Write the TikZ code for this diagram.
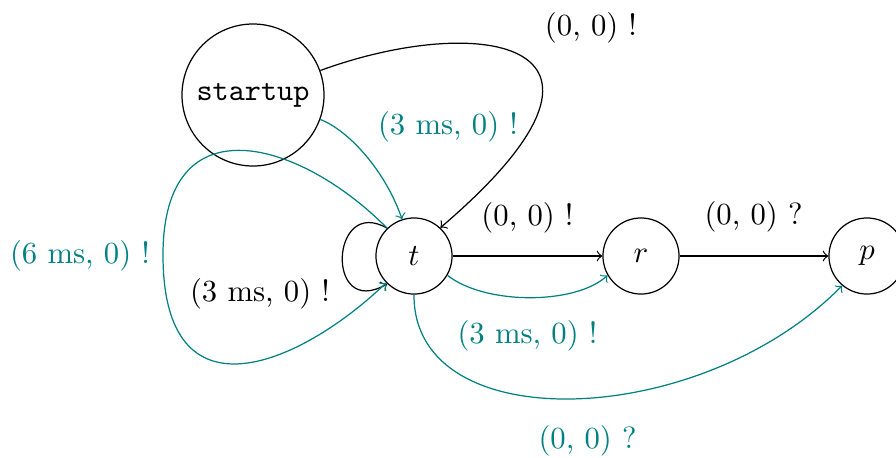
\documentclass[tikz,border=0pt]{standalone}
\usetikzlibrary{arrows}
\tikzset{
  statenode/.style={draw, circle, inner sep=0pt, minimum size=24.8pt},
  startnode/.style={draw, circle, inner sep=0pt, minimum size=46.3pt, font=\ttfamily},
  edge/.style={->, draw=black},
  tedge/.style={->, draw=teal},
  lbl/.style={inner sep=0pt, text=black},
  tlbl/.style={inner sep=0pt, text=teal}
}
\begin{document}
\begin{tikzpicture}[x=0.326pt, y=-0.326pt]
\useasboundingbox (0,0) rectangle (896,457);
\node[startnode] (s) at (253,95) {startup};
\node[statenode] (t) at (414,256) {$t$};
\node[statenode] (r) at (641,256) {$r$};
\node[statenode] (p) at (867,256) {$p$};

% startup -> t, black big curve
\draw[edge] (s.20) .. controls (480,12) and (660,40) .. (t.47);
% startup -> t, teal
\draw[tedge] (s.-20) .. controls (348,130) and (385,170) .. (t.108);
% t self loop black
\draw[edge] (t.134) .. controls (330,195) and (325,320) .. (t.-134);
% t big teal loop
\draw[tedge] (t.134) .. controls (300,140) and (163,100) .. (163,255)
  .. controls (163,425) and (300,365) .. (t.-136);
% t -> r
\draw[edge] (t) -- (r);
\draw[tedge] (t.-30) .. controls (485,305) and (575,305) .. (r.-150);
% r -> p
\draw[edge] (r) -- (p);
% t -> p teal
\draw[tedge] (t.-90) .. controls (413,440) and (700,430) .. (p.-130);

% labels
\node[lbl] (l1) at (591,28) {(0, 0) !};
\node[tlbl] (l2) at (448,127) {(3 ms, 0) !};
\node[lbl] (l3) at (527.5,217.5) {(0, 0) !};
\node[lbl] (l4) at (753.5,217) {(0, 0) ?};
\node[tlbl] (l5) at (527.5,336) {(3 ms, 0) !};
\node[tlbl] (l6) at (587.5,441) {(0, 0) ?};
\node[tlbl] (l7) at (80,256) {(6 ms, 0) !};
\node[lbl] (l8) at (260,294) {(3 ms, 0) !};
\end{tikzpicture}
\end{document}
